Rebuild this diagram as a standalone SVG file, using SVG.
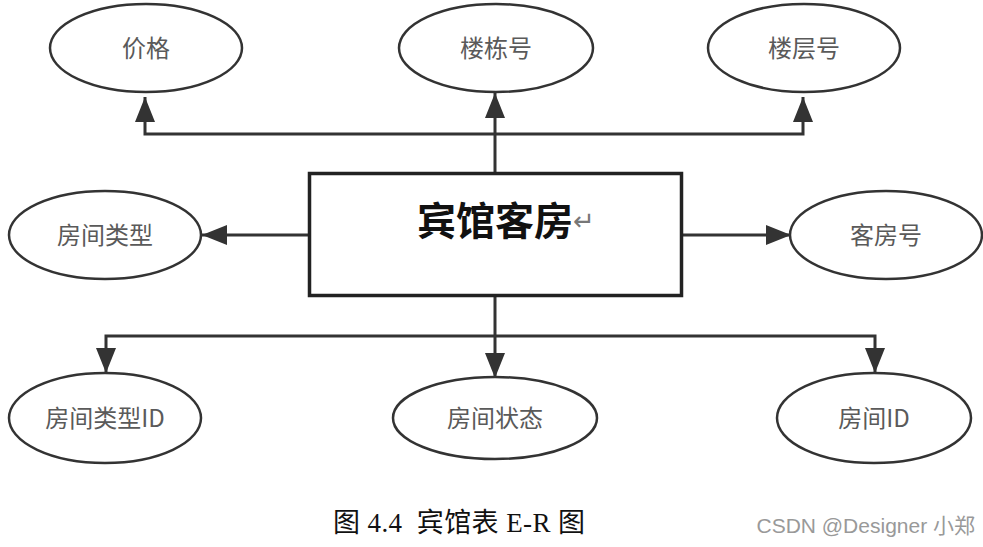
<svg xmlns="http://www.w3.org/2000/svg" width="983" height="547" viewBox="0 0 983 547">
<style>
.attr ellipse{fill:#fff;stroke:#333;stroke-width:2.5}
.attr text{font-family:"Noto Sans CJK SC","Liberation Sans",sans-serif;font-size:24px;fill:#5a5a5a;text-anchor:middle}
.conn path{fill:none;stroke:#333;stroke-width:3}
</style>
<defs>
<marker id="arr" viewBox="0 0 25 20" refX="25" refY="10" markerWidth="25" markerHeight="20" markerUnits="userSpaceOnUse" orient="auto">
<path d="M0,0 L25,10 L0,20 z" fill="#333"/>
</marker>
</defs>
<rect width="983" height="547" fill="#fff"/>
<g id="connectors" class="conn">
<path d="M495,172 V93" marker-end="url(#arr)"/>
<path d="M495,134 H145 V97" marker-end="url(#arr)"/>
<path d="M495,134 H803 V97" marker-end="url(#arr)"/>
<path d="M308,235 H202" marker-end="url(#arr)"/>
<path d="M683,235 H791" marker-end="url(#arr)"/>
<path d="M495,297 V378" marker-end="url(#arr)"/>
<path d="M495,336 H106 V373" marker-end="url(#arr)"/>
<path d="M495,336 H875 V373" marker-end="url(#arr)"/>
</g>
<g id="entity">
<rect x="309.5" y="173.5" width="372" height="122" fill="#fff" stroke="#222" stroke-width="3.5"/>
<text x="495" y="235" font-family="Noto Sans CJK SC, Liberation Sans, sans-serif" font-size="39" font-weight="bold" fill="#111" text-anchor="middle">宾馆客房</text>
<text x="573" y="230" font-family="DejaVu Sans, sans-serif" font-size="26" fill="#777">↵</text>
</g>
<g id="price" class="attr"><ellipse cx="146" cy="48" rx="96" ry="44"/><text x="146" y="57">价格</text></g>
<g id="building" class="attr"><ellipse cx="496" cy="48" rx="97" ry="44"/><text x="496" y="57">楼栋号</text></g>
<g id="floor" class="attr"><ellipse cx="804" cy="48" rx="96" ry="44"/><text x="804" y="57">楼层号</text></g>
<g id="roomtype" class="attr"><ellipse cx="105" cy="235" rx="96" ry="44"/><text x="105" y="244">房间类型</text></g>
<g id="roomno" class="attr"><ellipse cx="886" cy="235" rx="96" ry="44"/><text x="886" y="244">客房号</text></g>
<g id="roomtypeid" class="attr"><ellipse cx="105" cy="418" rx="96" ry="45"/><text x="105" y="427">房间类型ID</text></g>
<g id="roomstate" class="attr"><ellipse cx="495" cy="418" rx="102" ry="41"/><text x="495" y="427">房间状态</text></g>
<g id="roomid" class="attr"><ellipse cx="874" cy="418" rx="97" ry="45"/><text x="874" y="427">房间ID</text></g>
<text x="333" y="532" font-family="Liberation Serif, Noto Sans CJK SC, serif" font-size="27" fill="#111" xml:space="preserve" textLength="252">图 4.4  宾馆表 E-R 图</text>
<text x="975" y="533" font-family="Liberation Sans, Noto Sans CJK SC, sans-serif" font-size="21" fill="#999" text-anchor="end">CSDN @Designer 小郑</text>
</svg>
